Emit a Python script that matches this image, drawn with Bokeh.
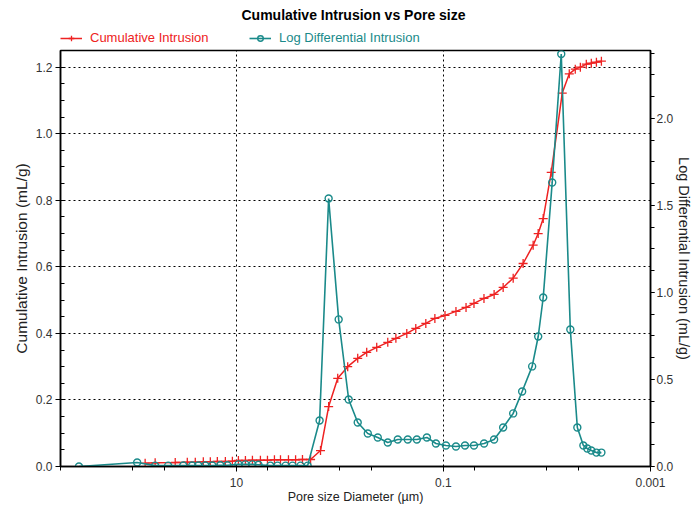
from bokeh.plotting import figure
from bokeh.layouts import column
from bokeh.models import (Range1d, LinearAxis, FixedTicker, SingleIntervalTicker,
                          CustomJSTickFormatter, PrintfTickFormatter, Legend,
                          LegendItem, Label)
from bokeh.embed import file_html
from bokeh.resources import INLINE

# ---- data ----
pore_cum = [76.1, 60.9, 38.97, 29.8, 24.95, 20.87, 17.86, 15.28, 12.78, 10.93,
            9.56, 8.18, 7.0, 5.86, 5.01, 4.29, 3.75, 3.14, 2.68, 2.30, 1.92,
            1.54, 1.285, 1.05, 0.841, 0.673, 0.551, 0.441, 0.345, 0.288, 0.226,
            0.185, 0.148, 0.121, 0.0966, 0.0757, 0.0605, 0.0507, 0.0406, 0.0324,
            0.0265, 0.0212, 0.0170, 0.0136, 0.01216, 0.01087, 0.0091, 0.00712,
            0.00609, 0.00533, 0.00476, 0.00417, 0.00373, 0.00333, 0.00298]
cum_intrusion = [0.010, 0.011, 0.012, 0.013, 0.013, 0.014, 0.014, 0.015, 0.015, 0.016,
                 0.018, 0.018, 0.019, 0.019, 0.019, 0.020, 0.020, 0.020, 0.020, 0.021, 0.021,
                 0.048, 0.180, 0.265, 0.300, 0.325, 0.343, 0.358, 0.373, 0.385, 0.400,
                 0.415, 0.430, 0.445, 0.454, 0.466, 0.478, 0.490, 0.505, 0.517,
                 0.538, 0.566, 0.610, 0.665, 0.700, 0.745, 0.884, 1.122,
                 1.180, 1.194, 1.200, 1.209, 1.212, 1.215, 1.218]

pore_ldi = [331.6, 90.9, 60.9, 45.6, 32.6, 26.7, 23.3, 19.96, 17.08, 14.29, 12.22,
            9.56, 8.18, 7.0, 6.12, 4.69, 4.01, 3.35, 2.87, 2.40, 2.05,
            1.571, 1.285, 1.028, 0.823, 0.673, 0.538, 0.431, 0.345, 0.276, 0.221,
            0.1806, 0.1445, 0.1182, 0.0946, 0.0757, 0.0619, 0.0507, 0.0405, 0.0324,
            0.0265, 0.0212, 0.01737, 0.0139, 0.01215, 0.01087, 0.0089, 0.00728,
            0.00595, 0.00509, 0.00445, 0.00408, 0.00373, 0.00333, 0.00298]
log_diff = [0.0, 0.023, 0.005, 0.005, 0.006, 0.006, 0.006, 0.006, 0.006, 0.007, 0.007,
            0.012, 0.012, 0.012, 0.010, 0.005, 0.005, 0.005, 0.005, 0.005, 0.005,
            0.264, 1.54, 0.845, 0.385, 0.253, 0.190, 0.167, 0.138, 0.155, 0.155,
            0.155, 0.167, 0.132, 0.121, 0.115, 0.121, 0.121, 0.132, 0.155,
            0.224, 0.305, 0.431, 0.575, 0.747, 0.971, 1.632, 2.37,
            0.787, 0.224, 0.121, 0.103, 0.092, 0.080, 0.080]

x_major = [1000, 10, 0.1, 0.001]
x_minor = [500, 100, 50, 5, 1, 0.5, 0.05, 0.01, 0.005]

RED = "#ee2222"
TEAL = "#1a8a8a"
FONT = "Liberation Sans"

# ---------- header (title + legend), frame aligned with the main plot ----------
h = figure(width=695, height=48, x_range=Range1d(0, 590), y_range=Range1d(0, 48),
           output_backend="svg", toolbar_location=None,
           min_border_left=60, min_border_right=45, min_border_top=0,
           min_border_bottom=0, x_axis_location=None, y_axis_location=None)
h.outline_line_color = None
h.grid.visible = False
# legend proxies (placed outside the visible range, only their style is used)
hl1 = h.line([-100, -90], [-100, -90], line_color=RED, line_width=1.5)
hs1 = h.scatter([-100], [-100], marker="cross", size=9, line_color=RED, line_width=1.3)
hl2 = h.line([-100, -90], [-100, -90], line_color=TEAL, line_width=1.6)
hs2 = h.scatter([-100], [-100], marker="circle", size=7, line_color=TEAL,
                line_width=1.4, fill_alpha=0)


def make_legend(label, rends, color, x):
    lg = Legend(items=[LegendItem(label=label, renderers=rends)],
                location=(x, 3), orientation="horizontal",
                label_text_color=color, label_text_font=FONT,
                label_text_font_size="13px",
                glyph_width=22, glyph_height=14, label_height=14,
                label_standoff=8, padding=0, margin=0, spacing=0,
                border_line_color=None, background_fill_alpha=0)
    h.add_layout(lg)


make_legend("Cumulative Intrusion", [hl1, hs1], RED, 0)
make_legend("Log Differential Intrusion", [hl2, hs2], TEAL, 189)

h.add_layout(Label(x=293, y=34, x_units="screen", y_units="screen",
                   text="Cumulative Intrusion vs Pore size", text_align="center",
                   text_baseline="middle", text_font=FONT, text_font_size="14px",
                   text_font_style="bold", text_color="black"))

# ---------- main plot ----------
p = figure(width=695, height=458, x_axis_type="log",
           x_range=Range1d(500, 0.001), y_range=Range1d(0, 1.25),
           output_backend="svg", toolbar_location=None,
           min_border_left=60, min_border_right=45,
           min_border_top=2, min_border_bottom=40)
p.extra_y_ranges = {"ldi": Range1d(0, 2.39)}

p.outline_line_color = "black"
p.outline_line_width = 1.5

for g in (p.xgrid[0], p.ygrid[0]):
    g.grid_line_color = "black"
    g.grid_line_dash = "2 3"
    g.grid_line_width = 1

xa = p.xaxis[0]
xa.ticker = FixedTicker(ticks=x_major, minor_ticks=x_minor)
xa.formatter = CustomJSTickFormatter(code="return tick.toString();")
xa.axis_label = "Pore size Diameter (µm)"

ya = p.left[0]
ya.ticker = SingleIntervalTicker(interval=0.2, num_minor_ticks=4)
ya.formatter = PrintfTickFormatter(format="%.1f")
ya.axis_label = "Cumulative Intrusion (mL/g)"

ra = LinearAxis(y_range_name="ldi", axis_label="Log Differential Intrusion (mL/g)",
                ticker=SingleIntervalTicker(interval=0.5, num_minor_ticks=4),
                formatter=PrintfTickFormatter(format="%.1f"))
p.add_layout(ra, "right")

for ax in (xa, ya, ra):
    ax.axis_line_color = "black"
    ax.axis_line_width = 1.5
    ax.major_tick_line_color = "black"
    ax.minor_tick_line_color = "black"
    ax.major_tick_out = 5
    ax.major_tick_in = 0
    ax.major_label_text_font = FONT
    ax.major_label_text_font_size = "12px"
    ax.major_label_text_color = "#333333"
    ax.axis_label_text_font = FONT
    ax.axis_label_text_font_style = "normal"
    ax.axis_label_text_color = "#222222"
    ax.major_label_standoff = 3

xa.axis_label_text_font_size = "12.5px"
ya.axis_label_text_font_size = "15.5px"
ra.axis_label_text_font_size = "14.5px"

ya.minor_tick_in = 4
ya.minor_tick_out = 0
xa.minor_tick_in = 0
xa.minor_tick_out = 4
ra.minor_tick_in = 0
ra.minor_tick_out = 4
ra.major_tick_out = 4
ra.major_label_standoff = 2
xa.major_label_standoff = 6
xa.axis_label_standoff = 0
ya.axis_label_standoff = 3
ra.axis_label_standoff = 0

p.line(pore_cum, cum_intrusion, line_color=RED, line_width=1.5)
p.scatter(pore_cum, cum_intrusion, marker="cross", size=9,
          line_color=RED, line_width=1.3)
p.line(pore_ldi, log_diff, line_color=TEAL, line_width=1.6, y_range_name="ldi")
p.scatter(pore_ldi, log_diff, marker="circle", size=7, y_range_name="ldi",
          line_color=TEAL, line_width=1.4, fill_alpha=0)

layout = column(h, p, spacing=0)
open("out.html", "w").write(file_html(layout, INLINE))
